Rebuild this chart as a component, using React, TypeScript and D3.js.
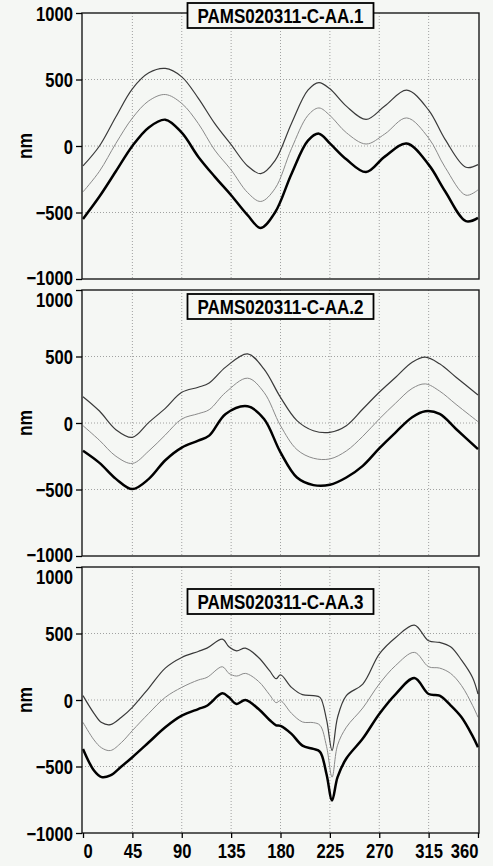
import { useEffect, useRef } from 'react'
import * as d3 from 'd3'

const titles = ['PAMS020311-C-AA.1', 'PAMS020311-C-AA.2', 'PAMS020311-C-AA.3']
const xTicks = [0, 45, 90, 135, 180, 225, 270, 315, 360]
const yTicks = [-1000, -500, 0, 500, 1000]

// panel 1
const angles1 = [0, 15, 30, 45, 60, 75, 90, 105, 120, 135, 150, 162, 175, 190, 205, 215, 225, 240, 258, 275, 295, 315, 330, 349, 360]
const upper1 = [-150, 0, 220, 430, 550, 583, 520, 360, 170, 10, -150, -208, -110, 170, 420, 477, 430, 300, 200, 300, 420, 270, 50, -160, -140]
const middle1 = [-345, -190, 20, 210, 340, 387, 320, 170, -30, -180, -350, -417, -320, -20, 230, 286, 230, 100, 15, 90, 211, 60, -160, -370, -330]
const lower1 = [-548, -380, -190, 0, 140, 198, 100, -80, -230, -370, -520, -616, -500, -210, 40, 93, 20, -100, -196, -80, 18, -140, -340, -565, -540]

// panel 2
const angles2 = [0, 15, 30, 45, 60, 75, 90, 105, 115, 130, 150, 165, 180, 195, 210, 225, 240, 255, 270, 285, 300, 312, 325, 340, 360]
const upper2 = [198, 90, -50, -108, 5, 110, 231, 269, 301, 420, 520, 405, 193, 18, -58, -70, -20, 105, 231, 344, 457, 495, 445, 344, 211]
const middle2 = [-20, -130, -250, -304, -210, -90, 30, 70, 100, 230, 337, 230, -20, -200, -265, -270, -210, -100, 30, 150, 260, 294, 240, 140, 10]
const lower2 = [-209, -300, -420, -497, -420, -280, -185, -133, -95, 68, 126, 30, -221, -410, -467, -465, -410, -322, -191, -70, 43, 88, 68, -45, -196]

// panel 3
const angles3 = [0, 10, 17, 25, 35, 45, 60, 75, 90, 105, 113, 127, 133, 140, 148, 160, 170, 176, 180, 190, 200, 210, 216, 222, 227, 232, 240, 255, 270, 285, 302, 315, 325, 335, 345, 355, 360]
const upper3 = [33, -100, -170, -185, -130, -55, 90, 240, 320, 365, 390, 458, 400, 370, 390, 320, 220, 160, 190, 95, 40, 33, 20, -150, -380, -130, 33, 120, 345, 470, 563, 445, 433, 400, 300, 170, 45]
const middle3 = [-168, -300, -360, -380, -320, -230, -100, 20, 95, 150, 170, 250, 200, 180, 200, 140, 40, -20, -5, -100, -165, -170, -190, -350, -580, -340, -205, -60, 120, 260, 358, 250, 240, 200, 108, -40, -130]
const lower3 = [-368, -530, -580, -567, -500, -430, -318, -205, -118, -68, -43, 50, 20, -30, 0, -68, -150, -190, -195, -255, -343, -368, -390, -560, -755, -580, -440, -290, -105, 45, 165, 45, 33, -40, -130, -270, -355]

const panels = [
  { title: titles[0], angles: angles1, series: [upper1, middle1, lower1], top: 13, titleDy: -10 },
  { title: titles[1], angles: angles2, series: [upper2, middle2, lower2], top: 290, titleDy: 4 },
  { title: titles[2], angles: angles3, series: [upper3, middle3, lower3], top: 567, titleDy: 22 },
]

const lineStyles = [
  { stroke: '#3a3a3a', width: 1.2 },
  { stroke: '#8a8a8a', width: 1 },
  { stroke: '#000', width: 2.5 },
]

const FONT = '"Liberation Sans", Arial, sans-serif'
const SX = 0.83 // squeeze the glyphs like a condensed face

export default function App() {
  const svgRef = useRef<SVGSVGElement>(null)

  useEffect(() => {
    if (!svgRef.current) return
    const svg = d3.select(svgRef.current)
    svg.selectAll('*').remove()

    const W = 493
    const H = 866
    const left = 82
    const right = 479
    const ph = 266

    svg.append('rect').attr('width', W).attr('height', H).attr('fill', '#f5f7f4')

    const x = d3.scaleLinear().domain([0, 360]).range([left + 1, right - 1])

    panels.forEach((p, i) => {
      const y = d3.scaleLinear().domain([-1000, 1000]).range([p.top + ph, p.top])
      const g = svg.append('g')

      // grid
      g.selectAll('.vg')
        .data(xTicks.slice(1, -1))
        .enter()
        .append('line')
        .attr('x1', (d: number) => x(d))
        .attr('x2', (d: number) => x(d))
        .attr('y1', p.top)
        .attr('y2', p.top + ph)
        .attr('stroke', '#8c8c8c')
        .attr('stroke-width', 0.8)
        .attr('stroke-dasharray', '1,2')
      g.selectAll('.hg')
        .data(yTicks.slice(1, -1))
        .enter()
        .append('line')
        .attr('x1', left)
        .attr('x2', right)
        .attr('y1', (d: number) => y(d))
        .attr('y2', (d: number) => y(d))
        .attr('stroke', '#8c8c8c')
        .attr('stroke-width', 0.8)
        .attr('stroke-dasharray', '1,2')

      // curves
      p.series.forEach((vals, k) => {
        const pts = p.angles.map((a, j) => [a, vals[j]] as [number, number])
        const line = d3.line<[number, number]>()
          .x((d: [number, number]) => x(d[0]))
          .y((d: [number, number]) => y(d[1]))
          .curve(d3.curveCatmullRom.alpha(0.5))
        g.append('path')
          .datum(pts)
          .attr('fill', 'none')
          .attr('stroke', lineStyles[k].stroke)
          .attr('stroke-width', lineStyles[k].width)
          .attr('stroke-linejoin', 'round')
          .attr('d', line)
      })

      // frame
      g.append('rect')
        .attr('x', left)
        .attr('y', p.top)
        .attr('width', right - left)
        .attr('height', ph)
        .attr('fill', 'none')
        .attr('stroke', '#1a1a1a')
        .attr('stroke-width', 1.4)

      // y axis
      const ya = g.append('g')
        .attr('transform', `translate(${left},0)`)
        .call(d3.axisLeft(y).tickValues(yTicks).tickSize(6).tickPadding(3).tickFormat(d3.format('d')))
      ya.select('.domain').remove()
      ya.selectAll('line').attr('stroke', '#000').attr('stroke-width', 1.3)
      ya.selectAll('text')
        .attr('font-family', FONT)
        .attr('font-weight', 'bold')
        .attr('font-size', 20)
        .attr('fill', '#000')
        .attr('x', -9 / SX)
        .attr('transform', `scale(${SX},1)`)
        .attr('dy', (d: number) => {
          if (i > 0 && d === 1000) return '0.8em'
          if (i < panels.length - 1 && d === -1000) return '0.28em'
          return '0.36em'
        })

      g.append('text')
        .attr('transform', `translate(32,${p.top + ph / 2}) rotate(-90) scale(${SX},1)`)
        .attr('text-anchor', 'middle')
        .attr('font-family', FONT)
        .attr('font-weight', 'bold')
        .attr('font-size', 21)
        .text('nm')

      // title box
      const tg = g.append('g').attr('transform', `translate(${(left + right) / 2},${p.top + p.titleDy})`)
      tg.append('rect')
        .attr('x', -93)
        .attr('y', 0)
        .attr('width', 186)
        .attr('height', 25)
        .attr('fill', '#f5f7f4')
        .attr('stroke', '#000')
        .attr('stroke-width', 1.8)
      tg.append('text')
        .attr('x', 0)
        .attr('y', 20)
        .attr('text-anchor', 'middle')
        .attr('transform', `scale(${SX},1)`)
        .attr('font-family', FONT)
        .attr('font-weight', 'bold')
        .attr('font-size', 20.5)
        .text(p.title)

      if (i === panels.length - 1) {
        const xa = g.append('g')
          .attr('transform', `translate(0,${p.top + ph})`)
          .call(d3.axisBottom(x).tickValues(xTicks).tickSize(5).tickPadding(6))
        xa.select('.domain').remove()
        xa.selectAll('line').attr('stroke', '#000').attr('stroke-width', 1.3)
        xa.selectAll('text')
          .attr('font-family', FONT)
          .attr('font-weight', 'bold')
          .attr('font-size', 20)
          .attr('fill', '#000')
          .attr('transform', `scale(${SX},1)`)
          .attr('text-anchor', (d: number) => (d === 0 ? 'start' : d === 360 ? 'end' : 'middle'))
      }
    })
  }, [])

  return (
    <svg ref={svgRef} width={493} height={866} style={{ position: 'absolute', left: 0, top: 0 }} />
  )
}
